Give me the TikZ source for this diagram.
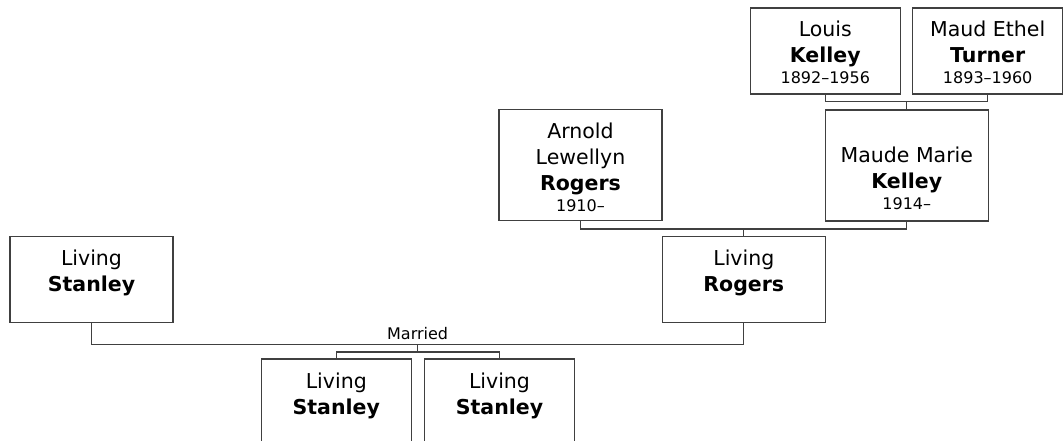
\documentclass[tikz,border=0pt]{standalone}
\usepackage{fontspec}
\setmainfont{DejaVu Sans}
\usetikzlibrary{calc}

\begin{document}
\begin{tikzpicture}[
    x=1pt, y=1pt,
    person/.style={draw=black!75, line width=1.3pt, fill=white, minimum width=150pt, minimum height=86pt, inner sep=0pt},
    wide/.style={person, minimum width=163pt},
    tall/.style={wide, minimum height=111pt},
    nametext/.style={anchor=base, align=center, inner sep=0pt, font=\fontsize{20.5}{26}\selectfont},
    link/.style={draw=black!75, line width=1.3pt},
    yrs/.style={font=\fontsize{16}{20}\selectfont}
]
\clip (0,0) rectangle (1063,440);

% grandparents
\node[person] (louis) at (825.3,389) {};
\node[person] (maudEthel) at (987.7,389) {};
% parents of Living Rogers
\node[tall] (arnold) at (580.5,274.8) {};
\node[tall] (maude) at (906.8,274.5) {};
% the couple
\node[wide] (stanley) at (91.5,160.5) {};
\node[wide] (rogers) at (743.8,160.5) {};
% children
\node[person] (kidA) at (336.3,38) {};
\node[person] (kidB) at (499.5,38) {};

% names (base = last line)
\node[nametext] (louisN) at ([yshift=-76]louis.north) {Louis\\\textbf{Kelley}\\[-5pt]{\fontsize{16}{20}\selectfont 1892–1956}};
\node[nametext] (maudEthelN) at ([yshift=-76]maudEthel.north) {Maud Ethel\\\textbf{Turner}\\[-5pt]{\fontsize{16}{20}\selectfont 1893–1960}};
\node[nametext] (arnoldN) at ([yshift=-102.5]arnold.north) {Arnold\\Lewellyn\\\textbf{Rogers}\\[-5pt]{\fontsize{16}{20}\selectfont 1910–}};
\node[nametext] (maudeN) at ([yshift=-100]maude.north) {Maude Marie\\\textbf{Kelley}\\[-5pt]{\fontsize{16}{20}\selectfont 1914–}};
\node[nametext] (stanleyN) at ([yshift=-56]stanley.north) {Living\\\textbf{Stanley}};
\node[nametext] (rogersN) at ([yshift=-56]rogers.north) {Living\\\textbf{Rogers}};
\node[nametext] (kidAN) at ([yshift=-56]kidA.north) {Living\\\textbf{Stanley}};
\node[nametext] (kidBN) at ([yshift=-56]kidB.north) {Living\\\textbf{Stanley}};

% junctions
\path (maude.north |- louis.south) ++(0,-7) coordinate (kelleyJ);
\path (rogers.north |- arnold.south) ++(0,-7.5) coordinate (rogersJ);
\path ($(stanley.south)!0.5!(rogers.south)$) ++(0,-21) coordinate (marriedJ);
\path (marriedJ) ++(0,-7.7) coordinate (kidsJ);

% connectors
\draw[link] (louis.south) |- (kelleyJ) -| (maudEthel.south);
\draw[link] (kelleyJ) -- (maude.north);
\draw[link] (arnold.south) |- (rogersJ) -| (maude.south);
\draw[link] (rogersJ) -- (rogers.north);
\draw[link] (stanley.south) |- (marriedJ) -| (rogers.south);
\draw[link] (marriedJ) -- (kidsJ);
\draw[link] (kidA.north) |- (kidsJ) -| (kidB.north);

\node[yrs, anchor=base, inner sep=0pt] (married) at ([yshift=4.5]marriedJ) {Married};
\end{tikzpicture}
\end{document}
